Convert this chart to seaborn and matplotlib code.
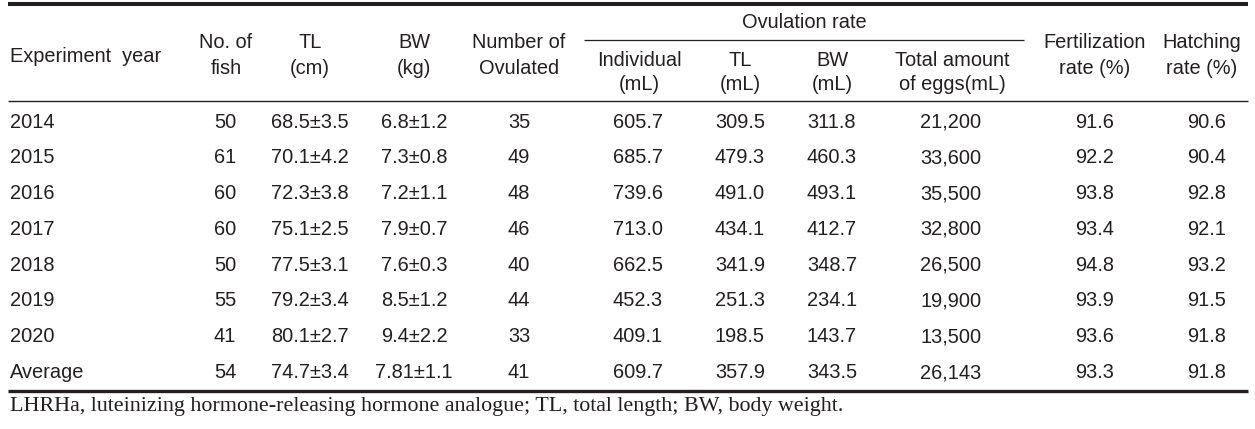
import matplotlib
matplotlib.use("Agg")
import matplotlib.pyplot as plt
import seaborn as sns

# table values
years = ["2014", "2015", "2016", "2017", "2018", "2019", "2020", "Average"]
n_fish = [50, 61, 60, 60, 50, 55, 41, 54]
tl_cm = ["68.5±3.5", "70.1±4.2", "72.3±3.8", "75.1±2.5", "77.5±3.1", "79.2±3.4", "80.1±2.7", "74.7±3.4"]
bw_kg = ["6.8±1.2", "7.3±0.8", "7.2±1.1", "7.9±0.7", "7.6±0.3", "8.5±1.2", "9.4±2.2", "7.81±1.1"]
n_ovulated = [35, 49, 48, 46, 40, 44, 33, 41]
indiv_ml = [605.7, 685.7, 739.6, 713.0, 662.5, 452.3, 409.1, 609.7]
tl_ml = [309.5, 479.3, 491.0, 434.1, 341.9, 251.3, 198.5, 357.9]
bw_ml = [311.8, 460.3, 493.1, 412.7, 348.7, 234.1, 143.7, 343.5]
total_eggs = [21200, 33600, 35500, 32800, 26500, 19900, 13500, 26143]
fert_rate = [91.6, 92.2, 93.8, 93.4, 94.8, 93.9, 93.6, 93.3]
hatch_rate = [90.6, 90.4, 92.8, 92.1, 93.2, 91.5, 91.8, 91.8]

headers = [("No. of", "fish"), ("TL", "(cm)"), ("BW", "(kg)"), ("Number of", "Ovulated"),
           ("Individual", "(mL)"), ("TL", "(mL)"), ("BW", "(mL)"), ("Total amount", "of eggs(mL)"),
           ("Fertilization", "rate (%)"), ("Hatching", "rate (%)")]
footnote = "LHRHa, luteinizing hormone-releasing hormone analogue; TL, total length; BW, body weight."

sns.set_theme(style="white")
plt.rcParams['font.family'] = ['Liberation Sans', 'DejaVu Sans']

ink = "#231f20"
fs = 14.4

columns = [
    [str(v) for v in n_fish],
    tl_cm,
    bw_kg,
    [str(v) for v in n_ovulated],
    [f"{v:.1f}" for v in indiv_ml],
    [f"{v:.1f}" for v in tl_ml],
    [f"{v:.1f}" for v in bw_ml],
    [f"{v:,}" for v in total_eggs],
    [f"{v:.1f}" for v in fert_rate],
    [f"{v:.1f}" for v in hatch_rate],
]
col_x = [225, 310, 414, 519, 638, 740, 832, 951, 1095, 1207]
head_x = [226, 310, 414, 519, 639, 740, 832, 952, 1095, 1202]
row_y0, row_dy = 122, 35.8

fig = plt.figure(figsize=(12.55, 4.29), dpi=100)
ax = fig.add_axes([0, 0, 1, 1])
ax.set_xlim(0, 1255)
ax.set_ylim(429, 0)
ax.axis("off")

# rules
ax.hlines(4, 8, 1248, color=ink, lw=2.9)
ax.hlines(40, 584, 1024, color=ink, lw=0.9)
ax.hlines(100.5, 8, 1248, color=ink, lw=1.0)
ax.hlines(391, 8, 1248, color=ink, lw=2.4)

# header
ax.text(10, 56, "Experiment  year", ha="left", va="center", fontsize=fs, color=ink)
ax.text(804, 22, "Ovulation rate", ha="center", va="center", fontsize=fs, color=ink)
for i, (l1, l2) in enumerate(headers):
    y1, y2 = (60, 85) if 4 <= i <= 7 else (43, 68)
    ax.text(head_x[i], y1, l1, ha="center", va="center", fontsize=fs, color=ink)
    ax.text(head_x[i], y2, l2, ha="center", va="center", fontsize=fs, color=ink)

# body
for r, yr in enumerate(years):
    y = row_y0 + r * row_dy
    ax.text(10, y, yr, ha="left", va="center", fontsize=fs, color=ink)
    for c, vals in enumerate(columns):
        ax.text(col_x[c], y, vals[r], ha="center", va="center", fontsize=fs, color=ink)

ax.text(10, 406, footnote, ha="left", va="center", fontsize=15.8,
        color=ink, family=["Liberation Serif", "DejaVu Serif"])

fig.savefig("out.png", dpi=100)
